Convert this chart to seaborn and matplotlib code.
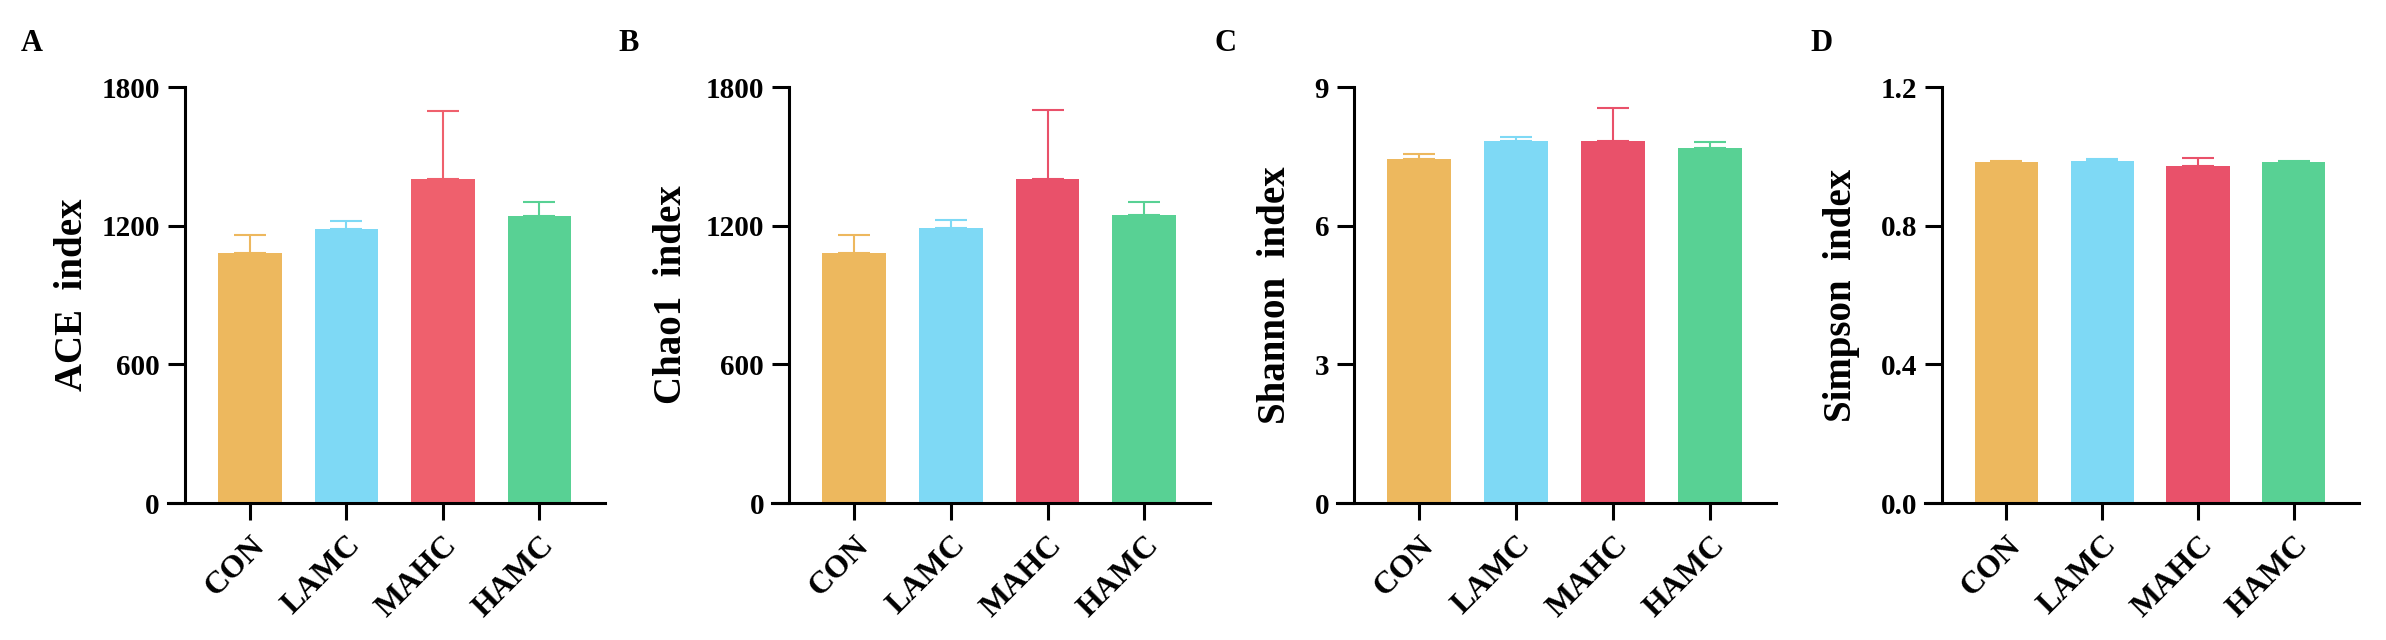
import numpy as np
import pandas as pd
import matplotlib
matplotlib.use("Agg")
import matplotlib.pyplot as plt
import seaborn as sns

# ---------------- data ----------------
groups = ["CON", "LAMC", "MAHC", "HAMC"]

ace_mean = [1081, 1187, 1401, 1243]
ace_err = [77, 35, 297, 58]

chao1_mean = [1081, 1190, 1404, 1245]
chao1_err = [77, 35, 298, 59]

shannon_mean = [7.44, 7.84, 7.84, 7.69]
shannon_err = [0.12, 0.07, 0.70, 0.13]

simpson_mean = [0.984, 0.987, 0.973, 0.983]
simpson_err = [0.002, 0.004, 0.021, 0.004]

ylabels = ["ACE  index", "Chao1  index", "Shannon  index", "Simpson  index"]
panel_letters = ["A", "B", "C", "D"]
yticks_list = [[0, 600, 1200, 1800], [0, 600, 1200, 1800], [0, 3, 6, 9], [0.0, 0.4, 0.8, 1.2]]
ytick_labels = [["0", "600", "1200", "1800"], ["0", "600", "1200", "1800"],
                ["0", "3", "6", "9"], ["0.0", "0.4", "0.8", "1.2"]]

palette_a = ["#EDB85E", "#7ED9F5", "#EF606D", "#58D194"]
palette_bcd = ["#EDB85E", "#7ED9F5", "#E9516A", "#58D194"]

# ---------------- style ----------------
sns.set_theme(style="white")
plt.rcParams["font.family"] = ["Liberation Serif", "DejaVu Serif"]
plt.rcParams["font.weight"] = "bold"
plt.rcParams["text.color"] = "black"
plt.rcParams["axes.labelcolor"] = "black"

W, H = 2386, 640
fig = plt.figure(figsize=(W / 100, H / 100), dpi=100)

means = [ace_mean, chao1_mean, shannon_mean, simpson_mean]
errs = [ace_err, chao1_err, shannon_err, simpson_err]
palettes = [palette_a, palette_bcd, palette_bcd, palette_bcd]

# layout in pixels: (axes left, axes width, y-label baseline x, letter x)
layout = [
    (168, 437, 82, 21),
    (772, 438, 681, 618),
    (1337, 439, 1285, 1214),
    (1925, 434, 1851, 1810),
]
ax_bottom_px, ax_top_px = 503, 87
xlim = (-0.85, 3.68)
spine_gap_px = 17

for k in range(4):
    left, width, lab_x, let_x = layout[k]
    ax = fig.add_axes([left / W, (H - ax_bottom_px) / H, width / W,
                       (ax_bottom_px - ax_top_px) / H])
    df = pd.DataFrame({"group": groups, "value": means[k]})
    sns.barplot(data=df, x="group", y="value", hue="group", palette=palettes[k],
                legend=False, width=0.66, saturation=1, ax=ax, errorbar=None,
                linewidth=0)
    for i in range(len(groups)):
        ax.errorbar(i, means[k][i], yerr=[[0], [errs[k][i]]], fmt="none",
                    ecolor=palettes[k][i], elinewidth=1.5, capsize=11.5,
                    capthick=1.5, zorder=1)

    for s in ["top", "right"]:
        ax.spines[s].set_visible(False)
    for s in ["left", "bottom"]:
        ax.spines[s].set_linewidth(2.2)
        ax.spines[s].set_color("black")
    ax.spines["left"].set_position(("axes", spine_gap_px / width))

    ax.set_xlim(*xlim)
    yt = yticks_list[k]
    ax.set_ylim(0, yt[-1])
    ax.set_yticks(yt)
    ax.set_yticklabels(ytick_labels[k], fontsize=21, fontweight="bold")
    ax.set_xticks(range(len(groups)))
    ax.set_xticklabels(groups, fontsize=23, fontweight="bold", rotation=45,
                       ha="right", rotation_mode="anchor")
    ax.set_xlabel("")
    ax.set_ylabel(ylabels[k], fontsize=28, fontweight="bold", va="baseline",
                  color="black")
    ax.yaxis.set_label_coords((lab_x - left) / width, 0.5)

    ax.tick_params(axis="both", direction="out", length=12, width=2.2,
                   color="black", labelcolor="black")
    ax.tick_params(axis="y", pad=6, left=True)
    ax.tick_params(axis="x", pad=8, bottom=True)
    ax.grid(False)
    ax.set_facecolor("white")

    fig.text(let_x / W, 1 - 51 / H, panel_letters[k], fontsize=22,
             fontweight="bold", ha="left", va="baseline", color="black")

fig.savefig("out.png", dpi=100, facecolor="white")
